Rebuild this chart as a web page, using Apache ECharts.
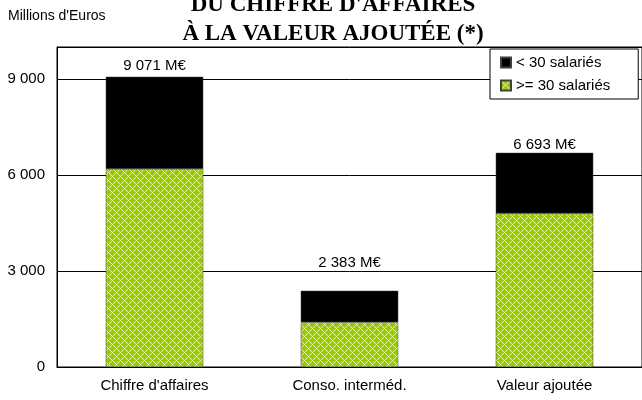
<!DOCTYPE html>
<html><head><meta charset="utf-8">
<script src="https://cdn.jsdelivr.net/npm/echarts@6/dist/echarts.min.js"></script>
<style>html,body{margin:0;padding:0;background:#fff}#c{width:642px;height:400px}</style>
</head><body><div id="c"></div>
<script>
const categories = ["Chiffre d'affaires", "Conso. interméd.", "Valeur ajoutée"];
const seriesNames = ["< 30 salariés", ">= 30 salariés"];
const small = [2881, 983, 1893];
const large = [6190, 1400, 4800];
const yTicks = [0, 3000, 6000, 9000];
const titleLines = ["DU CHIFFRE D'AFFAIRES", "À LA VALEUR AJOUTÉE (*)"];
const unitLabel = "Millions d'Euros";

function fmt(n){ return String(n).replace(/\B(?=(\d{3})+(?!\d))/g, '\u00a0'); }

const pc = document.createElement('canvas'); pc.width = 8; pc.height = 8;
const ctx = pc.getContext('2d');
ctx.fillStyle = '#99cc00'; ctx.fillRect(0, 0, 8, 8);
ctx.fillStyle = '#e4f2b0';
for (let x = 0; x < 8; x++) for (let y = 0; y < 8; y++) {
  if ((x + y) % 8 === 0 || (x - y + 8) % 8 === 0) ctx.fillRect(x, y, 1, 1);
}
const pattern = { image: pc, repeat: 'repeat' };

const labelDist = [3, 20, 0];
const FONT = '"Liberation Sans", Arial, sans-serif';

const chart = echarts.init(document.getElementById('c'), null, { renderer: 'canvas' });
chart.setOption({
  animation: false,
  backgroundColor: '#fff',
  graphic: [
    { type: 'text', left: 8, top: 9, style: { text: unitLabel, font: '14px ' + FONT, fill: '#000' } },
    { type: 'text', x: 333, y: -6, style: { text: titleLines[0], font: 'bold 23px "Liberation Serif", serif', fill: '#000', align: 'center' } },
    { type: 'text', x: 333, y: 23, style: { text: titleLines[1], font: 'bold 23px "Liberation Serif", serif', fill: '#000', align: 'center' } }
  ],
  legend: {
    data: seriesNames,
    orient: 'vertical',
    left: 490, top: 49,
    itemWidth: 10, itemHeight: 10, itemGap: 8,
    padding: [6, 28, 6, 10],
    borderColor: '#000', borderWidth: 1, backgroundColor: '#fff',
    icon: 'rect',
    textStyle: { fontSize: 15, fontFamily: FONT, color: '#000' }
  },
  grid: { left: 57, top: 47, right: -2, bottom: 33, show: true, borderColor: '#000', borderWidth: 1, backgroundColor: '#fff' },
  xAxis: {
    type: 'category', data: categories,
    axisLine: { lineStyle: { color: '#000', width: 1 } },
    axisTick: { inside: true, length: 5, lineStyle: { color: '#000' } },
    axisLabel: { fontSize: 15, fontFamily: FONT, color: '#000', margin: 11 }
  },
  yAxis: {
    type: 'value', min: 0, max: 10000, interval: 3000,
    axisLine: { show: true, lineStyle: { color: '#000' } },
    axisTick: { show: false },
    splitLine: { lineStyle: { color: '#000', width: 1 } },
    axisLabel: { fontSize: 15, fontFamily: FONT, color: '#000', margin: 12,
      formatter: v => yTicks.indexOf(v) >= 0 ? fmt(v) : '' }
  },
  series: [
    { name: seriesNames[1], type: 'bar', stack: 't', barWidth: '50%',
      data: large, itemStyle: { color: pattern, borderColor: '#404040', borderWidth: 0.5 } },
    { name: seriesNames[0], type: 'bar', stack: 't', barWidth: '50%',
      itemStyle: { color: '#000', borderColor: '#404040', borderWidth: 0.5 },
      data: small.map((v, i) => ({ value: v, label: { distance: labelDist[i] } })),
      label: { show: true, position: 'top', fontSize: 15, fontFamily: FONT, color: '#000',
        formatter: p => fmt(small[p.dataIndex] + large[p.dataIndex]) + ' M€' } }
  ]
});
</script></body></html>
